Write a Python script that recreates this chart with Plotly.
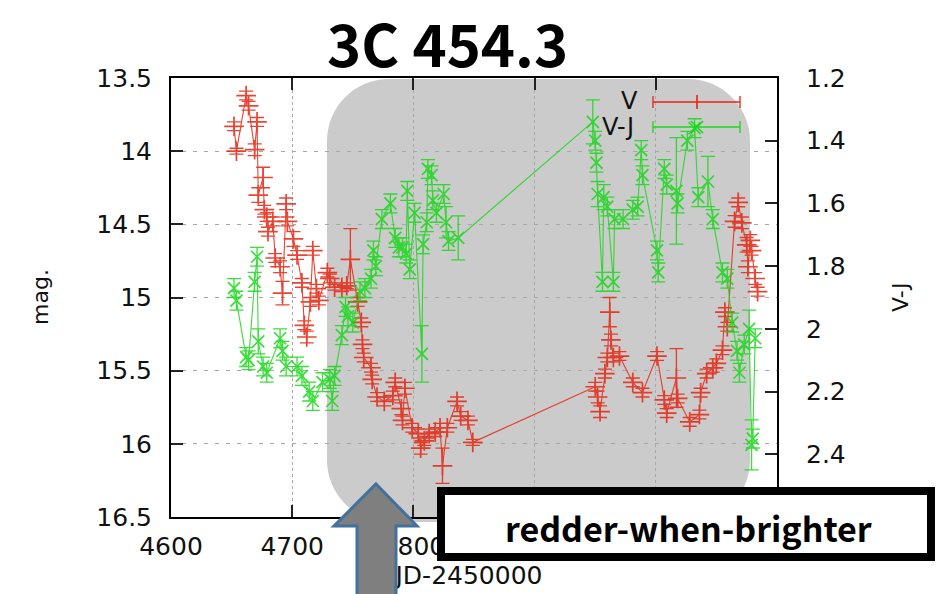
import plotly.graph_objects as go

# ---- V-band light curve of 3C 454.3 (JD-2450000, mag, error) ----
v_jd = [4652, 4654, 4662, 4664, 4669, 4671, 4672, 4676, 4677, 4679, 4680, 4684,
        4686, 4690, 4692, 4695, 4696, 4701, 4704, 4708, 4710, 4712, 4715, 4717,
        4720, 4722, 4729, 4731, 4735, 4741, 4745, 4748, 4754, 4757, 4758, 4759,
        4765, 4766, 4770, 4776, 4783, 4785, 4790, 4791, 4793, 4799, 4804, 4806,
        4809, 4813, 4818, 4822, 4824, 4828, 4836, 4839, 4845, 4849,
        4950, 4952, 4954, 4958, 4960, 4962, 4963, 4965, 4970, 4981, 4989, 5001,
        5007, 5009, 5017, 5018, 5028, 5036, 5037, 5042, 5047, 5050, 5055, 5057,
        5059, 5065, 5068, 5071, 5075, 5076, 5078, 5079, 5082, 5084]
v_mag = [13.83, 14.00, 13.62, 13.69, 13.99, 13.80, 14.30, 14.18, 14.40, 14.45, 14.55, 14.48,
         14.73, 14.79, 14.97, 14.36, 14.48, 14.60, 14.71, 14.90, 15.19, 15.27, 15.03, 14.68,
         14.94, 15.02, 14.83, 14.87, 14.93, 14.93, 14.92, 14.74, 15.03, 15.17, 15.32, 15.41,
         15.48, 15.56, 15.68, 15.71, 15.67, 15.58, 15.76, 15.84, 15.62, 15.89, 15.93, 16.03,
         15.98, 15.93, 15.92, 15.89, 16.15, 15.89, 15.71, 15.81, 15.84, 15.99,
         15.61, 15.68, 15.78, 15.52, 15.41, 15.10, 15.29, 15.41, 15.40, 15.58, 15.65, 15.40,
         15.70, 15.79, 15.55, 15.69, 15.85, 15.80, 15.65, 15.52, 15.48, 15.45, 15.36, 15.10,
         15.20, 14.48, 14.35, 14.49, 14.64, 14.79, 14.61, 14.68, 14.87, 14.96]
v_err = [0.03, 0.02, 0.03, 0.03, 0.04, 0.03, 0.05, 0.07, 0.03, 0.03, 0.03, 0.03,
         0.03, 0.04, 0.08, 0.04, 0.03, 0.05, 0.03, 0.03, 0.03, 0.04, 0.03, 0.03,
         0.03, 0.03, 0.03, 0.03, 0.02, 0.03, 0.02, 0.21, 0.03, 0.03, 0.03, 0.03,
         0.03, 0.03, 0.03, 0.03, 0.03, 0.03, 0.04, 0.03, 0.04, 0.03, 0.03, 0.04,
         0.03, 0.03, 0.03, 0.03, 0.12, 0.03, 0.03, 0.03, 0.03, 0.02,
         0.03, 0.04, 0.04, 0.03, 0.03, 0.10, 0.04, 0.03, 0.03, 0.03, 0.03, 0.03,
         0.03, 0.03, 0.20, 0.03, 0.03, 0.03, 0.03, 0.03, 0.03, 0.03, 0.03, 0.03,
         0.03, 0.04, 0.03, 0.04, 0.05, 0.04, 0.04, 0.03, 0.04, 0.03]

# ---- V-J colour index (JD-2450000, V-J, error) ----
vj_jd = [4652, 4654, 4662, 4664, 4669, 4671, 4672, 4676, 4679, 4690, 4692, 4695,
         4704, 4708, 4714, 4717, 4725, 4731, 4733, 4735, 4741, 4744, 4746, 4750,
         4756, 4760, 4765, 4767, 4769, 4774, 4781, 4785, 4788, 4791, 4794, 4795,
         4797, 4801, 4807, 4808, 4811, 4812, 4815, 4816, 4819, 4825, 4827, 4829,
         4837,
         4948, 4950, 4951, 4952, 4956, 4957, 4960, 4965, 4966, 4973, 4981, 4985,
         4988, 4989, 5001, 5002, 5007, 5009, 5017, 5018, 5026, 5032, 5035, 5043,
         5047, 5055, 5059, 5063, 5067, 5069, 5073, 5077, 5079, 5080, 5082]
vj_col = [1.87, 1.91, 2.09, 2.10, 1.85, 1.77, 2.04, 2.12, 2.14, 2.03, 2.07, 2.12,
          2.12, 2.15, 2.20, 2.23, 2.17, 2.16, 2.23, 2.15, 2.02, 1.93, 1.96, 1.98,
          1.88, 1.87, 1.84, 1.75, 1.80, 1.65, 1.60, 1.71, 1.74, 1.74, 1.76, 1.56,
          1.81, 1.63, 2.08, 1.73, 1.66, 1.49, 1.51, 1.59, 1.63, 1.57, 1.66, 1.72,
          1.71,
          1.34, 1.40, 1.47, 1.57, 1.85, 1.58, 1.61, 1.85, 1.65, 1.65, 1.62, 1.61,
          1.43, 1.51, 1.75, 1.82, 1.49, 1.54, 1.56, 1.60, 1.40, 1.36, 1.58, 1.53,
          1.65, 1.82, 1.84, 1.98, 2.07, 2.14, 2.05, 2.00, 2.37, 2.35, 2.03]
vj_err = [0.03, 0.03, 0.03, 0.03, 0.03, 0.03, 0.04, 0.03, 0.03, 0.03, 0.03, 0.03,
          0.03, 0.03, 0.03, 0.03, 0.03, 0.03, 0.03, 0.03, 0.03, 0.03, 0.03, 0.03,
          0.03, 0.03, 0.03, 0.03, 0.03, 0.03, 0.03, 0.03, 0.03, 0.03, 0.03, 0.03,
          0.03, 0.03, 0.09, 0.03, 0.03, 0.03, 0.03, 0.03, 0.03, 0.03, 0.05, 0.03,
          0.07,
          0.07, 0.03, 0.03, 0.04, 0.03, 0.04, 0.03, 0.03, 0.03, 0.03, 0.03, 0.03,
          0.03, 0.03, 0.03, 0.03, 0.03, 0.03, 0.17, 0.03, 0.03, 0.03, 0.03, 0.08,
          0.03, 0.03, 0.03, 0.03, 0.03, 0.03, 0.03, 0.06, 0.08, 0.03, 0.03]

# ---- axes ----
x_ticks = [4600, 4700, 4800, 4900, 5000, 5100]
x_labels = ["4600", "4700", "4800", "", "", ""]   # the rest sit under the caption box
mag_ticks = [13.5, 14, 14.5, 15, 15.5, 16, 16.5]
mag_labels = ["13.5", "14", "14.5", "15", "15.5", "16", "16.5"]
col_ticks = [1.2, 1.4, 1.6, 1.8, 2.0, 2.2, 2.4]
col_labels = ["1.2", "1.4", "1.6", "1.8", "2", "2.2", "2.4"]

W, H = 945, 594
L, R, T, B = 171, 777, 78, 517          # plot area in pixels
CAP_H = 70                              # strip at the bottom holding the x caption

RED = "rgb(232,36,16)"
GREEN = "rgb(24,216,24)"
INK = "#111"
TICK_FONT = dict(family="DejaVu Sans", size=25, color=INK)


def px(x):
    return x / W


def py(y):
    return (H - y) / H


def path(points, closed=True):
    s = "M " + " L ".join(f"{px(x):.5f},{py(y):.5f}" for x, y in points)
    return s + (" Z" if closed else "")


def rounded_rect(x0, y0, x1, y1, r):
    k = 0.5523 * r

    def P(x, y):
        return f"{px(x):.5f},{py(y):.5f}"
    s = f"M {P(x0 + r, y0)} L {P(x1 - r, y0)} "
    s += f"C {P(x1 - r + k, y0)} {P(x1, y0 + r - k)} {P(x1, y0 + r)} "
    s += f"L {P(x1, y1 - r)} "
    s += f"C {P(x1, y1 - r + k)} {P(x1 - r + k, y1)} {P(x1 - r, y1)} "
    s += f"L {P(x0 + r, y1)} "
    s += f"C {P(x0 + r - k, y1)} {P(x0, y1 - r + k)} {P(x0, y1 - r)} "
    s += f"L {P(x0, y0 + r)} "
    s += f"C {P(x0, y0 + r - k)} {P(x0 + r - k, y0)} {P(x0 + r, y0)} Z"
    return s


fig = go.Figure()

fig.add_trace(go.Scatter(
    x=v_jd, y=v_mag, name="V", mode="lines+markers", xaxis="x", yaxis="y",
    line=dict(color=RED, width=1.1),
    marker=dict(symbol="cross-thin", size=14, color=RED,
                line=dict(color=RED, width=1.7)),
    error_y=dict(type="data", array=v_err, color=RED, thickness=1.3, width=7),
    opacity=0.85,
))

fig.add_trace(go.Scatter(
    x=vj_jd, y=vj_col, name="V-J", mode="lines+markers", xaxis="x", yaxis="y2",
    line=dict(color=GREEN, width=1.1),
    marker=dict(symbol="x-thin", size=12, color=GREEN,
                line=dict(color=GREEN, width=1.7)),
    error_y=dict(type="data", array=vj_err, color=GREEN, thickness=1.3, width=7),
    opacity=0.85,
))

# x-axis caption, placed in its own strip so the arrow is drawn over it
fig.add_trace(go.Scatter(
    x=[469], y=[H - 578], mode="text", text=["JD-2450000"],
    xaxis="x3", yaxis="y3",
    textfont=dict(family="DejaVu Sans", size=25, color=INK),
    showlegend=False, hoverinfo="skip",
))

shapes = []
# shaded highlight region
shapes.append(dict(type="path", xref="paper", yref="paper", layer="below",
                   path=rounded_rect(327, 79, 750, 522, 62),
                   fillcolor="#cbcbcb", line=dict(width=0)))

# key: sample lines with error-bar caps
for yk, col in ((102, RED), (127, GREEN)):
    shapes.append(dict(type="line", xref="paper", yref="paper",
                       x0=px(653), x1=px(740), y0=py(yk), y1=py(yk),
                       line=dict(color=col, width=1.3)))
    for xc in (653, 740):
        shapes.append(dict(type="line", xref="paper", yref="paper",
                           x0=px(xc), x1=px(xc), y0=py(yk - 6), y1=py(yk + 6),
                           line=dict(color=col, width=1.3)))
shapes.append(dict(type="line", xref="paper", yref="paper",
                   x0=px(697), x1=px(697), y0=py(95), y1=py(109),
                   line=dict(color=RED, width=1.6)))
shapes.append(dict(type="path", xref="paper", yref="paper",
                   path=path([(691, 121), (703, 133)], closed=False),
                   line=dict(color=GREEN, width=1.6)))
shapes.append(dict(type="path", xref="paper", yref="paper",
                   path=path([(691, 133), (703, 121)], closed=False),
                   line=dict(color=GREEN, width=1.6)))

# upward block arrow
shapes.append(dict(type="path", xref="paper", yref="paper", layer="above",
                   path=path([(376, 484), (417, 526), (396, 526), (396, 600),
                              (357, 600), (357, 526), (334, 526)]),
                   fillcolor="#7f7f7f", line=dict(color="#41719c", width=3)))

# framed caption box
shapes.append(dict(type="rect", xref="paper", yref="paper", layer="above",
                   x0=px(441), x1=px(931), y0=py(491), y1=py(557),
                   fillcolor="white", line=dict(color="black", width=8)))

annotations = [
    dict(text="<b>3C 454.3</b>", x=px(447), y=py(42), xref="paper", yref="paper",
         showarrow=False, xanchor="center", yanchor="middle",
         font=dict(family="Noto Sans CJK JP", size=58, color="black")),
    dict(text="mag.", x=px(40), y=py(297), xref="paper", yref="paper",
         showarrow=False, textangle=-90, xanchor="center", yanchor="middle",
         font=dict(family="DejaVu Sans", size=22, color=INK)),
    dict(text="V-J", x=px(900), y=py(298), xref="paper", yref="paper",
         showarrow=False, textangle=-90, xanchor="center", yanchor="middle",
         font=dict(family="DejaVu Sans", size=22, color=INK)),
    dict(text="V", x=px(640), y=py(101), xref="paper", yref="paper",
         showarrow=False, xanchor="right", yanchor="middle",
         font=dict(family="DejaVu Sans", size=24, color=INK)),
    dict(text="V-J", x=px(636), y=py(127), xref="paper", yref="paper",
         showarrow=False, xanchor="right", yanchor="middle",
         font=dict(family="DejaVu Sans", size=24, color=INK)),
    dict(text="<b>redder-when-brighter</b>", x=px(688), y=py(527),
         xref="paper", yref="paper", showarrow=False,
         xanchor="center", yanchor="middle",
         font=dict(family="Noto Sans CJK JP", size=34, color="black")),
]

axis_common = dict(ticks="inside", ticklen=12, tickwidth=2, tickcolor="#222",
                   showline=True, linecolor="black", linewidth=2,
                   zeroline=False, tickfont=TICK_FONT, automargin=False)

fig.update_layout(
    width=W, height=H,
    margin=dict(l=0, r=0, t=0, b=0, pad=0),
    paper_bgcolor="white", plot_bgcolor="rgba(0,0,0,0)",
    showlegend=False,
    shapes=shapes, annotations=annotations,
    xaxis=dict(domain=[px(L), px(R)], anchor="y", range=[4600, 5100],
               tickvals=x_ticks, ticktext=x_labels, mirror="ticks",
               showgrid=True, gridcolor="#a8a8a8", gridwidth=1, griddash="dot",
               ticklabelstandoff=6, **axis_common),
    yaxis=dict(domain=[py(B), py(T)], anchor="x", range=[16.5, 13.5],
               tickvals=mag_ticks, ticktext=mag_labels, mirror=False,
               showgrid=True, gridcolor="#a8a8a8", gridwidth=1, griddash="4px,7px",
               ticklabelstandoff=12, **axis_common),
    yaxis2=dict(range=[2.6, 1.2], tickvals=col_ticks, ticktext=col_labels,
                overlaying="y", side="right", anchor="x",
                showgrid=False, ticklabelstandoff=22, **axis_common),
    xaxis3=dict(domain=[0, 1], anchor="y3", range=[0, W], visible=False,
                automargin=False),
    yaxis3=dict(domain=[0, CAP_H / H], anchor="x3", range=[0, CAP_H],
                visible=False, automargin=False),
)

fig.write_html("out.html")
